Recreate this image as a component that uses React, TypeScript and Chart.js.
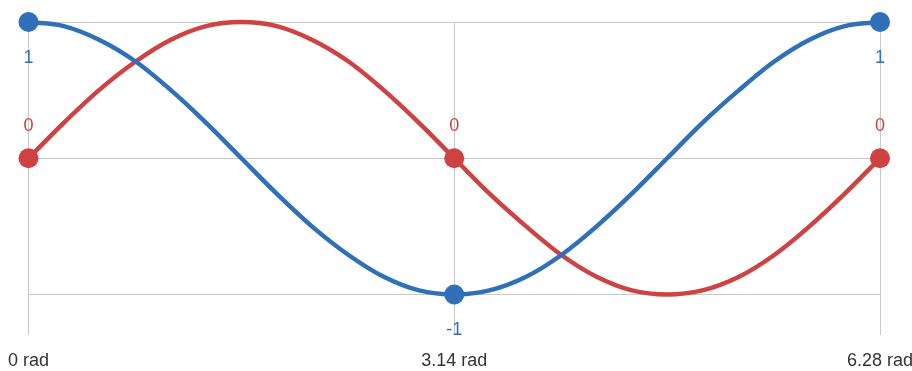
import React, { useEffect, useRef } from "react";
import { Chart, registerables } from "chart.js";

Chart.register(...registerables);

// angles in radians (x values)
const angles = [
  0, 0.26, 0.52, 0.79, 1.05, 1.31, 1.57, 1.83, 2.09, 2.36, 2.62, 2.88, 3.14,
  3.4, 3.67, 3.93, 4.19, 4.45, 4.71, 4.97, 5.24, 5.5, 5.76, 6.02, 6.28,
];
// cosine curve values
const cosValues = [
  1, 0.97, 0.87, 0.71, 0.5, 0.26, 0, -0.26, -0.5, -0.71, -0.87, -0.97, -1,
  -0.97, -0.87, -0.71, -0.5, -0.26, 0, 0.26, 0.5, 0.71, 0.87, 0.97, 1,
];
// sine curve values
const sinValues = [
  0, 0.26, 0.5, 0.71, 0.87, 0.97, 1, 0.97, 0.87, 0.71, 0.5, 0.26, 0,
  -0.26, -0.5, -0.71, -0.87, -0.97, -1, -0.97, -0.87, -0.71, -0.5, -0.26, 0,
];
// indices where markers and value labels are shown
const markedIndices = [0, 12, 24];
const xTickValues = [0, 3.14, 6.28];
const xTickLabels = ["0 rad", "3.14 rad", "6.28 rad"];
const yTickValues = [1, 0, -1];

const BLUE = "#2f70b8";
const RED = "#cf4242";
const FONT = "'Liberation Sans', Arial, sans-serif";

const valueLabelPlugin = {
  id: "valueLabels",
  afterDatasetsDraw(chart: any) {
    const ctx = chart.ctx;
    ctx.save();
    ctx.font = `18px ${FONT}`;
    ctx.textAlign = "center";
    ctx.textBaseline = "middle";
    chart.data.datasets.forEach((ds: any, di: number) => {
      const meta = chart.getDatasetMeta(di);
      const pos = ds.labelPosition;
      markedIndices.forEach((idx) => {
        const el = meta.data[idx];
        if (!el) return;
        const v = ds.data[idx].y;
        ctx.fillStyle = ds.borderColor;
        const dy = pos === "below" ? 36 : -32;
        ctx.fillText(String(v), el.x, el.y + dy);
      });
    });
    ctx.restore();
  },
};

export default function App() {
  const ref = useRef<HTMLCanvasElement | null>(null);
  useEffect(() => {
    if (!ref.current) return;
    const radii = angles.map((_, i) => (markedIndices.includes(i) ? 10 : 0));
    const chart = new Chart(ref.current, {
      type: "line",
      data: {
        datasets: [
          {
            label: "cos",
            data: angles.map((a, i) => ({ x: a, y: cosValues[i] })),
            borderColor: BLUE,
            backgroundColor: BLUE,
            borderWidth: 4.5,
            pointRadius: radii,
            pointHoverRadius: radii,
            pointBorderWidth: 0,
            tension: 0.4,
            cubicInterpolationMode: "monotone",
            fill: false,
            clip: false,
            labelPosition: "below",
          } as any,
          {
            label: "sin",
            data: angles.map((a, i) => ({ x: a, y: sinValues[i] })),
            borderColor: RED,
            backgroundColor: RED,
            borderWidth: 4.5,
            pointRadius: radii,
            pointHoverRadius: radii,
            pointBorderWidth: 0,
            tension: 0.4,
            cubicInterpolationMode: "monotone",
            fill: false,
            clip: false,
            labelPosition: "above",
          } as any,
        ],
      },
      options: {
        animation: false,
        responsive: true,
        maintainAspectRatio: false,
        layout: { padding: { left: 22, right: 80, top: 22, bottom: 0 } },
        plugins: { legend: { display: false }, tooltip: { enabled: false } },
        scales: {
          x: {
            type: "linear",
            min: 0,
            max: 6.28,
            afterBuildTicks: (scale: any) => {
              scale.ticks = xTickValues.map((v) => ({ value: v }));
            },
            grid: { color: "#c8c8c8", lineWidth: 1, drawTicks: false },
            border: { display: false },
            ticks: {
              padding: 15,
              maxRotation: 0,
              autoSkip: false,
              color: "#333",
              font: { family: FONT, size: 18 },
              callback: (_v: any, i: number) => xTickLabels[i],
            },
          },
          y: {
            type: "linear",
            min: -1.3,
            max: 1,
            afterBuildTicks: (scale: any) => {
              scale.ticks = yTickValues.map((v) => ({ value: v }));
            },
            grid: { color: "#c8c8c8", lineWidth: 1, drawTicks: false },
            border: { display: false },
            ticks: { display: false },
          },
        },
      },
      plugins: [valueLabelPlugin],
    });
    return () => chart.destroy();
  }, []);
  return (
    <div
      style={{
        position: "absolute",
        left: 0,
        top: 0,
        width: 912,
        height: 371,
        overflow: "hidden",
        background: "#fff",
      }}
    >
      <div style={{ position: "relative", left: -7, width: 967, height: 387 }}>
        <canvas ref={ref} />
      </div>
    </div>
  );
}
